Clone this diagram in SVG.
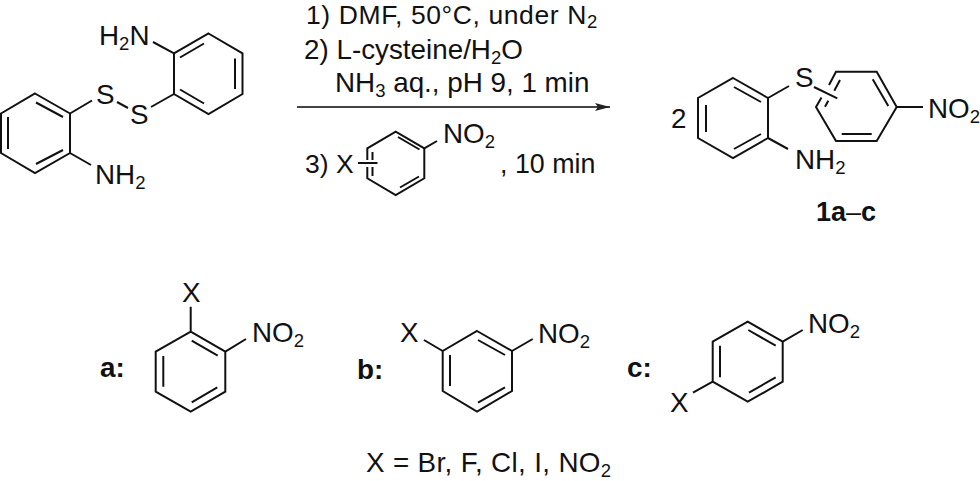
<svg xmlns="http://www.w3.org/2000/svg" width="980" height="481" viewBox="0 0 980 481">
<style>
text{font-family:"Liberation Sans",Arial,sans-serif;font-size:27.8px;fill:#111}
.b{font-weight:bold}
.s{font-size:18.5px}
.m{fill:none;stroke:#111;stroke-width:2;stroke-linejoin:miter;stroke-linecap:butt}
</style>
<defs>
<marker id="ah" markerUnits="userSpaceOnUse" markerWidth="16" markerHeight="10" refX="15" refY="4" orient="auto"><path d="M0 0L15 4L0 8L3 4Z" fill="#222"/></marker>
</defs>
<rect width="980" height="481" fill="#fff"/>
<g id="connectors">
<line x1="297" y1="107" x2="610" y2="107" stroke="#444" stroke-width="1.8" marker-end="url(#ah)"/>
</g>
<g id="disulfide">
<path class="m" d="M208.500 33.500L242.500 53.300V94L208.500 114L174 94V53.300ZM180 57.500L204 43.500M235 58.500V89M180 89.500L204 103.500M153 42L174 53.300M151 107L174 94M117 102L128 108"/>
<path class="m" d="M35 93.500L70 113.500V153L35 173L1 153V113.500ZM36 102.500L63 117M8 117V149M36 164L63 150M70 113.500L92 100.500M70 153L91 165"/>
<text x="99" y="44.500">H<tspan class="s" dy="5">2</tspan><tspan dy="-5">N</tspan></text>
<text x="96" y="104">S</text>
<text x="130" y="124">S</text>
<text x="95" y="184">NH<tspan class="s" dy="5">2</tspan></text>
</g>
<g id="conditions">
<text x="306" y="24" style="font-size:26.5px;letter-spacing:.6px">1) DMF, 50°C, under N<tspan class="s" dy="4">2</tspan></text>
<text x="304" y="58.500">2) L-cysteine/H<tspan class="s" dy="5">2</tspan><tspan dy="-5">O</tspan></text>
<text x="335" y="92">NH<tspan class="s" dy="5">3</tspan><tspan dy="-5"> aq., pH 9, 1 min</tspan></text>
<text x="305" y="173" style="font-size:26.5px">3) X</text>
<text x="443" y="143">NO<tspan class="s" dy="5">2</tspan></text>
<text x="500" y="173" style="font-size:26.8px">, 10 min</text>
</g>
<g id="reagent">
<path class="m" d="M367.300 160V148.300L395.700 131.700L424.300 148.300V178.300L395.700 195L367.300 178.300V167M372.500 152V160M372.500 167V176M398 137L419.500 149.500M400 187.500L419 176.500M424.300 148.300L437 141M358 163H377.500"/>
</g>
<g id="product">
<path class="m" d="M733 78L768 98V138L733 158L698 138V98ZM734 87L761 102M706 105V132M734 149L761 134M768 98L789 86M768 138L788 149"/>
<path class="m" d="M829 85L836 71.700H876.700L896.700 107L876.700 141H836L816 107L821.500 97.500M840 80L834.300 90.700M828.300 100.700L825 106.700M872.700 79.300L888.300 106M841.700 134H871.700M814 87L837.300 98.300M896.700 107H923"/>
<text x="671" y="128">2</text>
<text x="795" y="87">S</text>
<text x="795" y="169">NH<tspan class="s" dy="5">2</tspan></text>
<text x="928" y="118">NO<tspan class="s" dy="5">2</tspan></text>
<text class="b" x="816" y="221" style="font-size:27px">1a<tspan font-weight="normal">–</tspan>c</text>
</g>
<g id="isomer-a">
<path class="m" d="M190.700 331.700L225.300 351.700V391.700L190.700 411.700L155.700 391.700V351.700ZM191.700 340.700L217.700 355.700M217.300 387.300L191.700 402.300M163.300 356V386.700M190.700 331.700V306.700M225.300 351.700L246 339"/>
<text x="182" y="302">X</text>
<text x="252" y="342">NO<tspan class="s" dy="5">2</tspan></text>
<text class="b" x="100" y="377">a:</text>
</g>
<g id="isomer-b">
<path class="m" d="M477 331L512 351V391L477 411.700L442.700 391V351ZM478 340L505 355M505 387.300L478 402.700M450 355V386M442.700 351L424 340M512 351L532.700 339"/>
<text x="400" y="341.700">X</text>
<text x="538" y="342.700">NO<tspan class="s" dy="5">2</tspan></text>
<text class="b" x="357" y="379">b:</text>
</g>
<g id="isomer-c">
<path class="m" d="M747.700 321.700L782.700 341.700V381.700L747.700 401.700L712.700 381.700V341.700ZM748.300 330L775.700 345.700M775.700 377.300L749 392.700M720 345.700V377.300M782.700 341.700L802.700 330M712.700 381.700L693 392.700"/>
<text x="670" y="411.700">X</text>
<text x="808" y="333">NO<tspan class="s" dy="5">2</tspan></text>
<text class="b" x="627" y="376.700">c:</text>
</g>
<g id="legend">
<text x="366" y="472" style="letter-spacing:.35px">X = Br, F, Cl, I, NO<tspan class="s" dy="5">2</tspan></text>
</g>
</svg>
